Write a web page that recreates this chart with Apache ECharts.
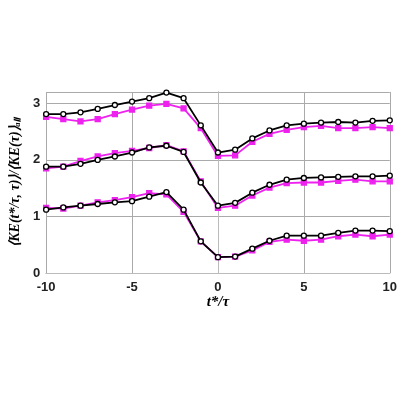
<!DOCTYPE html>
<html><head><meta charset="utf-8">
<script src="https://cdn.jsdelivr.net/npm/echarts@6/dist/echarts.min.js"></script>
<style>html,body{margin:0;padding:0;background:#fff}#c{width:400px;height:400px}</style>
</head><body><div id="c"></div>
<script>
const xs = [-10,-9,-8,-7,-6,-5,-4,-3,-2,-1,0,1,2,3,4,5,6,7,8,9,10];
const k3Black = [2.81,2.81,2.84,2.90,2.97,3.03,3.09,3.19,3.09,2.61,2.13,2.18,2.38,2.52,2.61,2.64,2.66,2.67,2.66,2.69,2.70];
const k3Mag   = [2.76,2.72,2.68,2.72,2.81,2.89,2.96,2.99,2.91,2.56,2.07,2.08,2.32,2.46,2.53,2.58,2.60,2.56,2.56,2.58,2.56];
const k2Black = [1.88,1.88,1.93,2.00,2.06,2.13,2.22,2.25,2.14,1.60,1.19,1.24,1.42,1.56,1.65,1.68,1.69,1.70,1.71,1.71,1.72];
const k2Mag   = [1.85,1.88,1.98,2.06,2.12,2.16,2.21,2.26,2.15,1.62,1.15,1.19,1.37,1.51,1.59,1.60,1.60,1.63,1.65,1.62,1.62];
const k1Black = [1.12,1.16,1.19,1.22,1.25,1.27,1.35,1.43,1.12,0.56,0.28,0.29,0.43,0.57,0.66,0.66,0.66,0.71,0.75,0.75,0.74];
const k1Mag   = [1.15,1.14,1.19,1.25,1.29,1.34,1.41,1.39,1.08,0.56,0.28,0.29,0.40,0.55,0.59,0.57,0.59,0.65,0.68,0.65,0.68];
const labels = [{t:'3τ₀',x:-8.3,y:3.0},{t:'2τ₀',x:-8.5,y:2.12},{t:'τ₀',x:-8.3,y:1.4}];
const zip = a => a.map((v,i)=>[xs[i],v]);
function ser(d, black){
  return {type:'line', data:zip(d), symbol: black?'circle':'rect', symbolSize:5,
    lineStyle:{color: black?'#000':'#ee22ee', width:1.8},
    itemStyle:{color: black?'#fff':'#ee22ee', borderColor: black?'#000':'#ee22ee', borderWidth:1.3},
    z: black?3:2, animation:false};
}
const series = [ser(k3Mag,false),ser(k3Black,true),ser(k2Mag,false),ser(k2Black,true),ser(k1Mag,false),ser(k1Black,true)];
series.push({type:'scatter', data:labels.map(l=>({value:[l.x,l.y],name:l.t})), symbolSize:1, itemStyle:{opacity:0},
  label:{show:true, position:'inside', formatter:p=>p.name, fontFamily:'Liberation Serif', fontWeight:'bold', fontSize:18, color:'#000', textBorderWidth:0},
  emphasis:{disabled:true}, z:10, animation:false});
const ch = echarts.init(document.getElementById('c'));
ch.setOption({
  animation:false,
  grid:{left:32,right:10,top:92,bottom:127},
  xAxis:[{type:'value',min:-10,max:10,interval:5,
    name:'t*/τ', nameLocation:'middle', nameGap:22,
    nameTextStyle:{fontFamily:'Liberation Serif',fontStyle:'italic',fontWeight:'bold',fontSize:15,color:'#000'},
    axisLine:{onZero:false,lineStyle:{color:'#999'}}, axisTick:{show:false},
    axisLabel:{fontFamily:'Liberation Sans',fontWeight:'bold',fontSize:13,color:'#222'},
    splitLine:{lineStyle:{color:'#aaa'}}},
   {type:'value',position:'top',min:-10,max:10,axisLine:{show:true,lineStyle:{color:'#bbb'}},axisTick:{show:false},axisLabel:{show:false},splitLine:{show:false}}],
  yAxis:[{type:'value',min:0,max:3.2,interval:1,
    name:'⟨KE(t*/τ, τ)⟩/⟨KE(τ)⟩ₐₗₗ', nameLocation:'middle', nameGap:18,
    nameTextStyle:{fontFamily:'Liberation Serif',fontStyle:'italic',fontWeight:'bold',fontSize:14,color:'#000'},
    axisLine:{show:true,lineStyle:{color:'#999'}}, axisTick:{show:false},
    axisLabel:{showMaxLabel:false,fontFamily:'Liberation Sans',fontWeight:'bold',fontSize:13,color:'#222',margin:6},
    splitLine:{lineStyle:{color:'#aaa'}}},
   {type:'value',position:'right',min:0,max:3.2,axisLine:{show:true,lineStyle:{color:'#bbb'}},axisTick:{show:false},axisLabel:{show:false},splitLine:{show:false}}],
  series
});
</script></body></html>
